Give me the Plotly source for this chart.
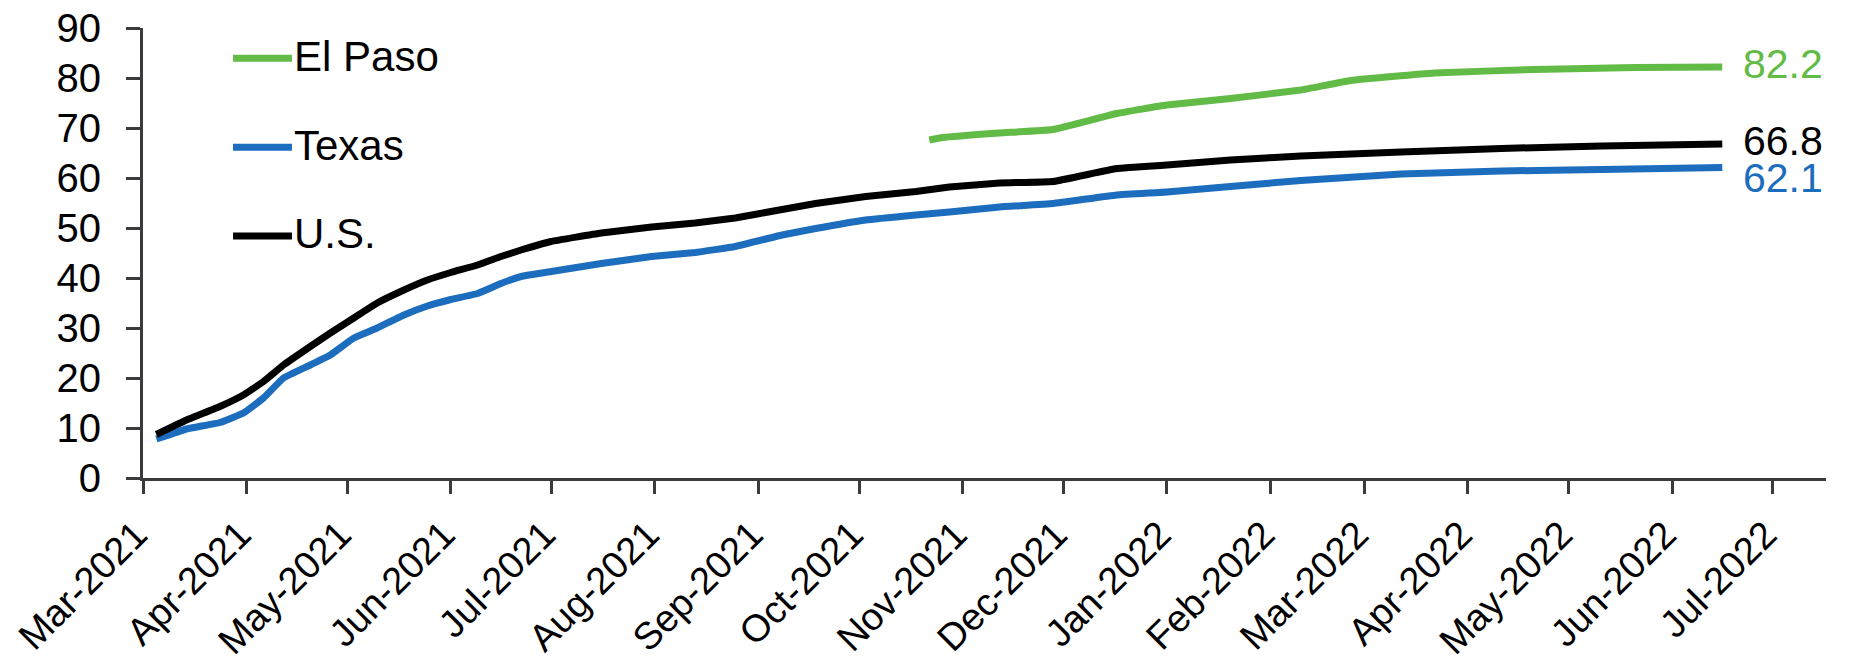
import plotly.graph_objects as go

# Share of population fully vaccinated (%)
us_dates = [
    "2021-03-05", "2021-03-14", "2021-03-24", "2021-03-31", "2021-04-06", "2021-04-12",
    "2021-04-20", "2021-04-26", "2021-05-03", "2021-05-10", "2021-05-18", "2021-05-25",
    "2021-06-01", "2021-06-09", "2021-06-16", "2021-06-22", "2021-07-01", "2021-07-16",
    "2021-07-31", "2021-08-13", "2021-08-25", "2021-09-08", "2021-09-18", "2021-10-03",
    "2021-10-18", "2021-10-28", "2021-11-12", "2021-11-28", "2021-12-17", "2022-01-01",
    "2022-01-20", "2022-02-10", "2022-03-12", "2022-04-11", "2022-05-11", "2022-06-16",
]
us_values = [
    8.7, 11.6, 14.3, 16.6, 19.3, 22.6,
    26.3, 29.0, 32.0, 35.0, 37.6, 39.6,
    41.1, 42.6, 44.3, 45.6, 47.3, 49.0,
    50.2, 51.0, 52.0, 53.7, 54.9, 56.3,
    57.3, 58.2, 59.0, 59.3, 61.9, 62.6,
    63.6, 64.4, 65.2, 65.9, 66.4, 66.8,
]
texas_values = [
    7.8, 9.8, 11.1, 13.0, 16.0, 20.0,
    22.6, 24.6, 28.0, 30.0, 32.6, 34.4,
    35.7, 36.9, 38.9, 40.3, 41.3, 42.9,
    44.3, 45.1, 46.3, 48.6, 49.9, 51.6,
    52.6, 53.2, 54.2, 54.9, 56.6, 57.2,
    58.3, 59.5, 60.8, 61.4, 61.7, 62.1,
]
elpaso_dates = [
    "2021-10-22", "2021-10-26", "2021-11-12", "2021-11-28", "2021-12-17", "2022-01-01",
    "2022-01-20", "2022-02-10", "2022-02-25", "2022-03-22", "2022-04-21", "2022-05-21",
    "2022-06-16",
]
elpaso_values = [
    67.6, 68.1, 69.0, 69.7, 72.9, 74.6,
    75.9, 77.6, 79.5, 81.0, 81.7, 82.1,
    82.2,
]

tick_dates = [
    "2021-03-01", "2021-04-01", "2021-05-01", "2021-06-01", "2021-07-01", "2021-08-01",
    "2021-09-01", "2021-10-01", "2021-11-01", "2021-12-01", "2022-01-01", "2022-02-01",
    "2022-03-01", "2022-04-01", "2022-05-01", "2022-06-01", "2022-07-01",
]
tick_labels = [
    "Mar-2021", "Apr-2021", "May-2021", "Jun-2021", "Jul-2021", "Aug-2021",
    "Sep-2021", "Oct-2021", "Nov-2021", "Dec-2021", "Jan-2022", "Feb-2022",
    "Mar-2022", "Apr-2022", "May-2022", "Jun-2022", "Jul-2022",
]

GREEN = "#62BB46"
BLUE = "#1C6DBE"
BLACK = "#000000"
AXIS = "#3a3b3d"
FONT = "Liberation Sans, Arial, sans-serif"

series = [
    ("El Paso", elpaso_dates, elpaso_values, GREEN, 3),
    ("Texas", us_dates, texas_values, BLUE, -10),
    ("U.S.", us_dates, us_values, BLACK, 3),
]

fig = go.Figure()
for name, xs, ys, color, _ in series:
    fig.add_trace(go.Scatter(
        x=xs, y=ys, mode="lines", name=name,
        line=dict(color=color, width=7, shape="spline", smoothing=0.3),
        showlegend=False,
    ))

# Value labels at the end of each line
for name, xs, ys, color, dy in series:
    fig.add_annotation(
        x=xs[-1], y=ys[-1], xref="x", yref="y",
        text=f"{ys[-1]:.1f}", showarrow=False,
        xanchor="left", yanchor="middle", xshift=19, yshift=dy,
        font=dict(family=FONT, size=41, color=color),
    )

# Hand-placed legend: short line sample followed by the series name
legend_rows = [("El Paso", GREEN, 0.933), ("Texas", BLUE, 0.735), ("U.S.", BLACK, 0.538)]
for label, color, yp in legend_rows:
    fig.add_shape(
        type="line", xref="paper", yref="paper",
        x0=0.0535, x1=0.0885, y0=yp, y1=yp,
        line=dict(color=color, width=7),
    )
    fig.add_annotation(
        x=0.0885, y=yp, xref="paper", yref="paper", text=label,
        showarrow=False, xanchor="left", yanchor="middle", yshift=2,
        font=dict(family=FONT, size=42, color="#000"),
    )

fig.update_layout(
    width=1863, height=663,
    margin=dict(l=143, r=37, t=28, b=185, autoexpand=False),
    paper_bgcolor="white", plot_bgcolor="white",
    font=dict(family=FONT, size=40, color="#000"),
    showlegend=False,
)
fig.update_xaxes(
    type="date", range=["2021-03-01", "2022-07-17"], automargin=False,
    tickmode="array", tickvals=tick_dates, ticktext=tick_labels,
    tickangle=-45, ticks="outside", ticklen=13, tickwidth=3, tickcolor=AXIS,
    ticklabelstandoff=3, ticklabelshift=-7,
    showline=True, linewidth=3, linecolor=AXIS, showgrid=False, zeroline=False,
    tickfont=dict(family=FONT, size=38, color="#000"),
)
fig.update_yaxes(
    range=[0, 90], dtick=10, tick0=0, automargin=False,
    ticks="outside", ticklen=14, tickwidth=3, tickcolor=AXIS,
    ticklabelstandoff=17,
    showline=True, linewidth=3, linecolor=AXIS, showgrid=False, zeroline=False,
    tickfont=dict(family=FONT, size=40, color="#000"),
)

fig.write_html("out.html")
